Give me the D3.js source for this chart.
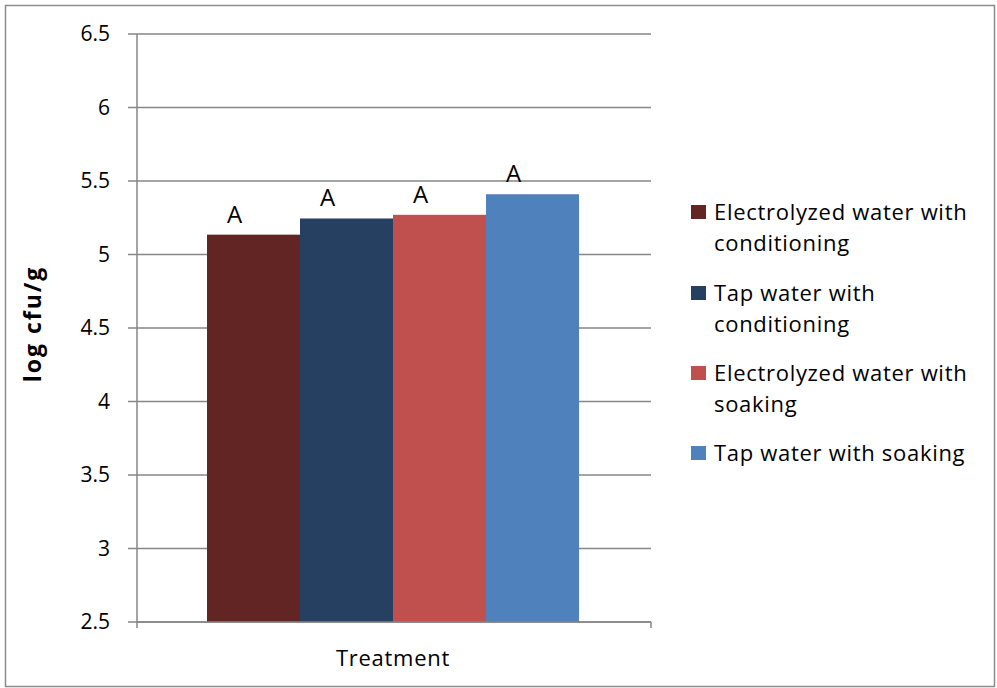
<!DOCTYPE html>
<html>
<head>
<meta charset="utf-8">
<script src="https://cdn.jsdelivr.net/npm/d3@7"></script>
<style>
  body { margin: 0; background: #fff; }
  text { font-family: "Open Sans", Lato, sans-serif; fill: #000; }
</style>
</head>
<body>
<div id="chart"></div>
<script>
// data
var treatments = ["Electrolyzed water with conditioning", "Tap water with conditioning",
                  "Electrolyzed water with soaking", "Tap water with soaking"];
var legendLines = [["Electrolyzed water with", "conditioning"], ["Tap water with", "conditioning"],
                   ["Electrolyzed water with", "soaking"], ["Tap water with soaking"]];
var values = [5.135, 5.245, 5.27, 5.41];
var letters = ["A", "A", "A", "A"];
var colors = ["#632523", "#254061", "#C0504D", "#4F81BD"];
var yTicks = [2.5, 3, 3.5, 4, 4.5, 5, 5.5, 6, 6.5];

var width = 997, height = 688;
var margin = { left: 137, top: 34, right: 346, bottom: 66 };
var innerWidth = width - margin.left - margin.right;
var innerHeight = height - margin.top - margin.bottom;

var svg = d3.select("#chart").append("svg")
  .attr("width", width)
  .attr("height", height);

// outer frame
svg.append("rect")
  .attr("x", 5.5).attr("y", 5.5)
  .attr("width", 989).attr("height", 681)
  .attr("fill", "none")
  .attr("stroke", "#8c8c8c")
  .attr("stroke-width", 1.5);

var g = svg.append("g")
  .attr("transform", "translate(" + margin.left + "," + margin.top + ")");

var y = d3.scaleLinear().domain([2.5, 6.5]).range([innerHeight, 0]);
var x = d3.scaleBand().domain(treatments).range([70, innerWidth - 72]).padding(0);

// grid lines
g.append("g")
  .selectAll("line")
  .data(yTicks)
  .enter().append("line")
  .attr("x1", -9).attr("x2", innerWidth)
  .attr("y1", d => y(d)).attr("y2", d => y(d))
  .attr("stroke", "#868686")
  .attr("stroke-width", 1.5);

// y axis line
g.append("line")
  .attr("x1", 0).attr("x2", 0)
  .attr("y1", 0).attr("y2", innerHeight)
  .attr("stroke", "#868686").attr("stroke-width", 1.5);

// y tick labels
g.append("g")
  .selectAll("text")
  .data(yTicks)
  .enter().append("text")
  .attr("x", -27)
  .attr("y", d => y(d))
  .attr("dy", "0.35em")
  .attr("text-anchor", "end")
  .style("font-size", "21px")
  .text(d => d);

// bars
g.append("g")
  .selectAll("rect")
  .data(values)
  .enter().append("rect")
  .attr("x", (d, i) => x(treatments[i]))
  .attr("width", x.bandwidth())
  .attr("y", d => y(d))
  .attr("height", d => innerHeight - y(d))
  .attr("fill", (d, i) => colors[i]);

// letters above bars
g.append("g")
  .selectAll("text")
  .data(values)
  .enter().append("text")
  .attr("x", (d, i) => x(treatments[i]) + x.bandwidth() / 2 - 19)
  .attr("y", d => y(d) - 12)
  .attr("text-anchor", "middle")
  .style("font-size", "24px")
  .text((d, i) => letters[i]);

// x axis line + end ticks
g.append("line")
  .attr("x1", 0).attr("x2", innerWidth)
  .attr("y1", innerHeight).attr("y2", innerHeight)
  .attr("stroke", "#868686").attr("stroke-width", 1.5);
[0, innerWidth].forEach(function (xx) {
  g.append("line")
    .attr("x1", xx).attr("x2", xx)
    .attr("y1", innerHeight).attr("y2", innerHeight + 6)
    .attr("stroke", "#868686").attr("stroke-width", 1.5);
});

// axis titles
g.append("text")
  .attr("x", innerWidth / 2 - 1)
  .attr("y", innerHeight + 44)
  .attr("text-anchor", "middle")
  .style("font-size", "22px")
  .style("letter-spacing", "0.7px")
  .text("Treatment");

svg.append("text")
  .attr("transform", "translate(41," + (margin.top + innerHeight / 2 - 4) + ") rotate(-90)")
  .attr("text-anchor", "middle")
  .style("font-size", "23px")
  .style("font-weight", "bold")
  .style("letter-spacing", "2px")
  .text("log cfu/g");

// legend
var rowTops = [212, 293, 373, 453];
var legend = svg.append("g");
legendLines.forEach(function (lines, i) {
  legend.append("rect")
    .attr("x", 691).attr("y", rowTops[i] - 7)
    .attr("width", 15).attr("height", 14)
    .attr("fill", colors[i]);
  lines.forEach(function (line, j) {
    legend.append("text")
      .attr("x", 714)
      .attr("y", rowTops[i] + j * 31)
      .attr("dy", "0.35em")
      .style("font-size", "22px")
      .style("letter-spacing", "0.7px")
      .text(line);
  });
});
</script>
</body>
</html>
